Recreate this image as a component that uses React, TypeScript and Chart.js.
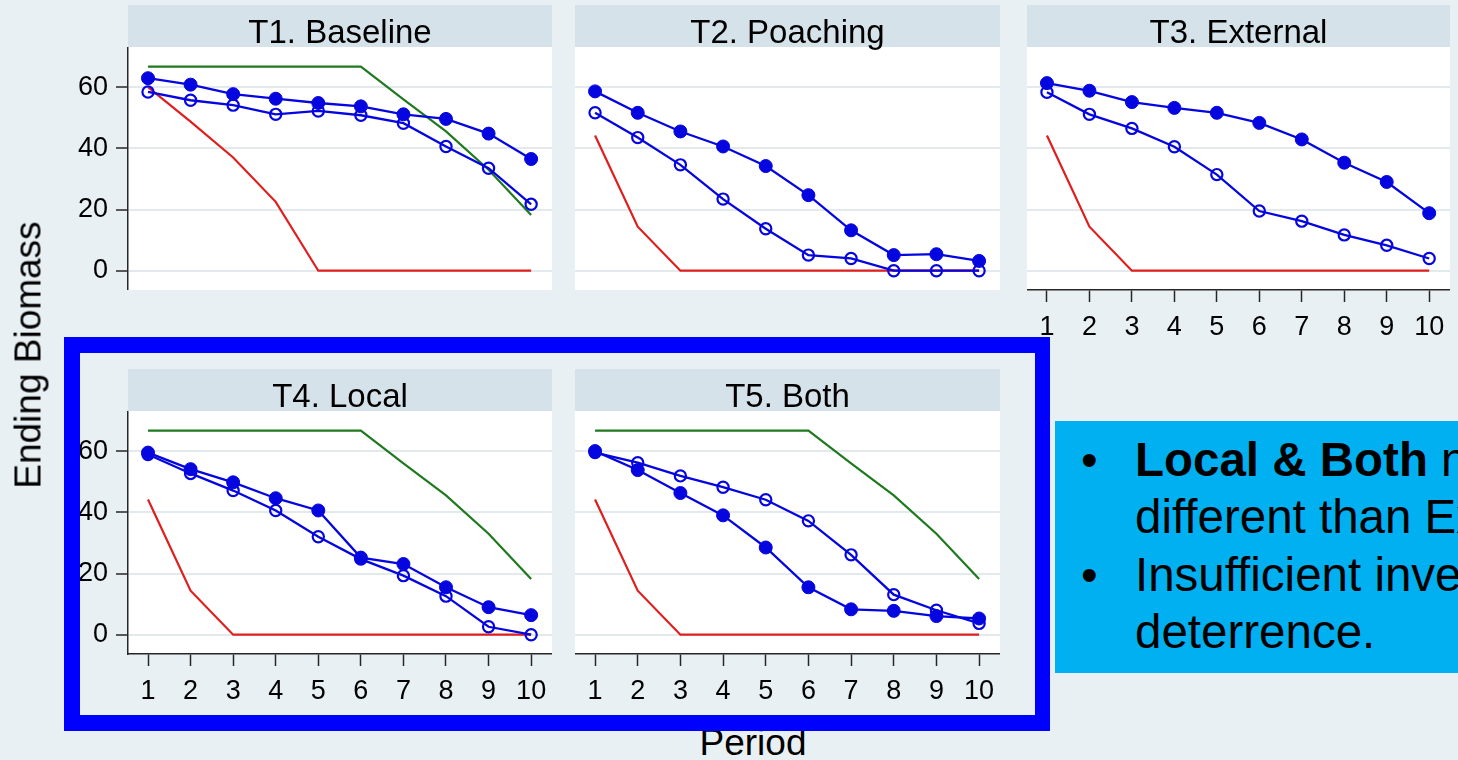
import React, { useEffect, useRef } from "react";
import { Chart, registerables } from "chart.js";

Chart.register(...registerables);

// ---------- data ----------
const periods = [1, 2, 3, 4, 5, 6, 7, 8, 9, 10];
const yTickValues = [0, 20, 40, 60];
const panelTitles = ["T1. Baseline", "T2. Poaching", "T3. External", "T4. Local", "T5. Both"];

const t1Filled = [62.9, 60.8, 57.7, 56.2, 54.8, 53.7, 51.1, 49.6, 44.8, 36.5];
const t1Hollow = [58.4, 55.7, 54.1, 51.1, 52.2, 50.8, 48.2, 40.6, 33.5, 21.7];
const t2Filled = [58.6, 51.6, 45.5, 40.6, 34.2, 24.7, 13.2, 5.1, 5.4, 3.2];
const t2Hollow = [51.6, 43.5, 34.6, 23.4, 13.7, 5.1, 4.0, 0, 0, 0];
const t3Filled = [61.3, 58.8, 55.1, 53.2, 51.6, 48.3, 42.9, 35.3, 29.0, 18.8];
const t3Hollow = [58.3, 51.1, 46.5, 40.5, 31.4, 19.5, 16.2, 11.7, 8.3, 4.0];
const t4Filled = [59.5, 54.1, 49.8, 44.6, 40.6, 25.2, 23.1, 15.5, 9.0, 6.4];
const t4Hollow = [58.9, 52.7, 47.1, 40.6, 32.0, 24.7, 19.3, 12.6, 2.6, 0];
const t5Filled = [60.0, 53.8, 46.3, 39.0, 28.5, 15.5, 8.3, 7.8, 6.1, 5.3];
const t5Hollow = [59.5, 56.2, 51.9, 48.2, 44.1, 37.2, 26.1, 13.1, 8.0, 3.7];
const redBaseline = [60, 48.7, 37, 22.5, 0, 0, 0, 0, 0, 0];
const redTreatment = [44.2, 14.4, 0, 0, 0, 0, 0, 0, 0, 0];
const greenBenchmark = [66.7, 66.7, 66.7, 66.7, 66.7, 66.7, 56, 45.5, 33, 18.2];

// ---------- styles / layout ----------
const FONT = '"Liberation Sans", Arial, Helvetica, sans-serif';
const BG = "#e9f0f3";
const HEADER_BG = "#d6e2e9";
const BLUE = "#0505e0";
const RED = "#e01e1e";
const GREEN = "#1f7a1f";
const GRID = "#e2eaee";
const AXIS = "#262626";

const X_MIN = 0.53;
const X_MAX = 10.49;
const Y_MIN = -6.3;
const Y_MAX = 73.1;

const COL_LEFT = [128, 575, 1027];
const COL_RIGHT = [552, 1000, 1450];
const ROW_HEADER_TOP = [5, 369];
const HEADER_H = 42;
const PLOT_H = 243;
const Y_AXIS_W = 80;
const X_AXIS_H = 60;

type PanelSpec = {
  title: string;
  filled: number[];
  hollow: number[];
  red: number[];
  green: number[] | null;
  col: number;
  row: number;
  yAxis: boolean;
  xAxis: boolean;
};

const PANELS: PanelSpec[] = [
  { title: panelTitles[0], filled: t1Filled, hollow: t1Hollow, red: redBaseline, green: greenBenchmark, col: 0, row: 0, yAxis: true, xAxis: false },
  { title: panelTitles[1], filled: t2Filled, hollow: t2Hollow, red: redTreatment, green: null, col: 1, row: 0, yAxis: false, xAxis: false },
  { title: panelTitles[2], filled: t3Filled, hollow: t3Hollow, red: redTreatment, green: null, col: 2, row: 0, yAxis: false, xAxis: true },
  { title: panelTitles[3], filled: t4Filled, hollow: t4Hollow, red: redTreatment, green: greenBenchmark, col: 0, row: 1, yAxis: true, xAxis: true },
  { title: panelTitles[4], filled: t5Filled, hollow: t5Hollow, red: redTreatment, green: greenBenchmark, col: 1, row: 1, yAxis: false, xAxis: true },
];

const toPoints = (arr: number[]) => periods.map((p, i) => ({ x: p, y: arr[i] }));

const plotBackground = {
  id: "plotBackground",
  beforeDraw(chart: any) {
    const { ctx, chartArea } = chart;
    if (!chartArea) return;
    ctx.save();
    ctx.fillStyle = "#ffffff";
    ctx.fillRect(chartArea.left, chartArea.top, chartArea.right - chartArea.left, chartArea.bottom - chartArea.top);
    ctx.restore();
  },
};

function Panel({ spec }: { spec: PanelSpec }) {
  const ref = useRef<HTMLCanvasElement | null>(null);
  const plotLeft = COL_LEFT[spec.col];
  const plotW = COL_RIGHT[spec.col] - plotLeft;
  const yW = spec.yAxis ? Y_AXIS_W : 0;
  const xH = spec.xAxis ? X_AXIS_H : 0;
  const canvasW = plotW + yW;
  const canvasH = PLOT_H + xH;
  const headerTop = ROW_HEADER_TOP[spec.row];
  const plotTop = headerTop + HEADER_H;

  useEffect(() => {
    if (!ref.current) return;
    const datasets: any[] = [
      {
        data: toPoints(spec.filled),
        borderColor: BLUE,
        backgroundColor: BLUE,
        borderWidth: 2.3,
        pointRadius: 6.5,
        pointBorderWidth: 1,
        pointBackgroundColor: BLUE,
        pointBorderColor: BLUE,
        tension: 0,
      },
      {
        data: toPoints(spec.hollow),
        borderColor: BLUE,
        backgroundColor: "rgba(0,0,0,0)",
        borderWidth: 2.3,
        pointRadius: 5.6,
        pointBorderWidth: 2.2,
        pointBackgroundColor: "rgba(0,0,0,0)",
        pointBorderColor: BLUE,
        tension: 0,
      },
    ];
    if (spec.green) {
      datasets.push({
        data: toPoints(spec.green),
        borderColor: GREEN,
        borderWidth: 2.2,
        pointRadius: 0,
        tension: 0,
      });
    }
    datasets.push({
      data: toPoints(spec.red),
      borderColor: RED,
      borderWidth: 2.2,
      pointRadius: 0,
      tension: 0,
    });

    const chart = new Chart(ref.current, {
      type: "line",
      data: { datasets },
      options: {
        responsive: false,
        animation: false,
        devicePixelRatio: 1,
        events: [],
        layout: { padding: 0, autoPadding: false },
        plugins: {
          legend: { display: false },
          tooltip: { enabled: false },
          title: { display: false },
        },
        scales: {
          x: {
            type: "linear",
            min: X_MIN,
            max: X_MAX,
            display: spec.xAxis,
            afterBuildTicks: (s: any) => {
              s.ticks = periods.map((v) => ({ value: v }));
            },
            afterFit: (s: any) => {
              s.height = spec.xAxis ? X_AXIS_H : 0;
              s.paddingLeft = 0;
              s.paddingRight = 0;
            },
            grid: {
              drawOnChartArea: false,
              drawTicks: true,
              tickLength: 12,
              tickColor: AXIS,
              tickWidth: 1.5,
            },
            border: { display: true, color: AXIS, width: 1.5 },
            ticks: {
              font: { family: FONT, size: 27 },
              color: "#000",
              padding: 9,
              maxRotation: 0,
              minRotation: 0,
              autoSkip: false,
              callback: (v: any) => String(v),
            },
          },
          y: {
            type: "linear",
            min: Y_MIN,
            max: Y_MAX,
            display: true,
            afterBuildTicks: (s: any) => {
              s.ticks = yTickValues.map((v) => ({ value: v }));
            },
            afterFit: (s: any) => {
              s.width = spec.yAxis ? Y_AXIS_W : 0;
              s.paddingTop = 0;
              s.paddingBottom = 0;
            },
            grid: {
              color: GRID,
              lineWidth: 2,
              drawTicks: spec.yAxis,
              tickLength: 12,
              tickColor: AXIS,
              tickWidth: 1.5,
            },
            border: { display: spec.yAxis, color: AXIS, width: 1.5 },
            ticks: {
              display: spec.yAxis,
              font: { family: FONT, size: 27 },
              color: "#000",
              padding: 8,
            },
          },
        },
      } as any,
      plugins: [plotBackground],
    });
    return () => chart.destroy();
  }, [spec]);

  return (
    <>
      <canvas
        ref={ref}
        width={canvasW}
        height={canvasH}
        style={{
          position: "absolute",
          left: plotLeft - yW,
          top: plotTop,
          width: canvasW,
          height: canvasH,
          display: "block",
        }}
      />
      <div
        style={{
          position: "absolute",
          left: plotLeft,
          top: headerTop,
          width: plotW,
          height: HEADER_H,
          background: HEADER_BG,
        }}
      />
      <div
        style={{
          position: "absolute",
          left: plotLeft,
          top: headerTop + 10,
          width: plotW,
          textAlign: "center",
          fontSize: 33,
          lineHeight: "33px",
          color: "#000",
          whiteSpace: "nowrap",
          zIndex: 2,
        }}
      >
        {spec.title}
      </div>
    </>
  );
}

export default function App() {
  return (
    <div
      style={{
        position: "fixed",
        left: 0,
        top: 0,
        width: 1458,
        height: 760,
        background: BG,
        overflow: "hidden",
        fontFamily: FONT,
        color: "#000",
      }}
    >
      {PANELS.map((p) => (
        <Panel key={p.title} spec={p} />
      ))}

      {/* y-axis title */}
      <div
        style={{
          position: "absolute",
          left: 28,
          top: 355,
          fontSize: 37,
          lineHeight: "37px",
          whiteSpace: "nowrap",
          transform: "translate(-50%, -50%) rotate(-90deg)",
        }}
      >
        Ending Biomass
      </div>

      {/* x-axis title */}
      <div
        style={{
          position: "absolute",
          left: 753,
          top: 724,
          fontSize: 37,
          lineHeight: "37px",
          whiteSpace: "nowrap",
          transform: "translateX(-50%)",
        }}
      >
        Period
      </div>

      {/* highlight frame */}
      <div
        style={{
          position: "absolute",
          left: 64,
          top: 337,
          width: 986,
          height: 394,
          boxSizing: "border-box",
          border: "16px solid #0000ff",
          borderRight: "15px solid #0000ff",
          zIndex: 5,
        }}
      />

      {/* text box */}
      <div
        style={{
          position: "absolute",
          left: 1055,
          top: 421,
          width: 403,
          height: 252,
          background: "#00b0f0",
          overflow: "hidden",
          zIndex: 4,
          fontSize: 47.5,
          lineHeight: "57.3px",
          whiteSpace: "nowrap",
        }}
      >
        <div style={{ position: "absolute", left: 26, top: 10 }}>•</div>
        <div style={{ position: "absolute", left: 26, top: 10 + 2 * 57.3 }}>•</div>
        <div style={{ position: "absolute", left: 80, top: 10 }}>
          <div>
            <b>Local &amp; Both</b> not significantly
          </div>
          <div>different than External.</div>
          <div>Insufficient investment in</div>
          <div>deterrence.</div>
        </div>
      </div>
    </div>
  );
}
